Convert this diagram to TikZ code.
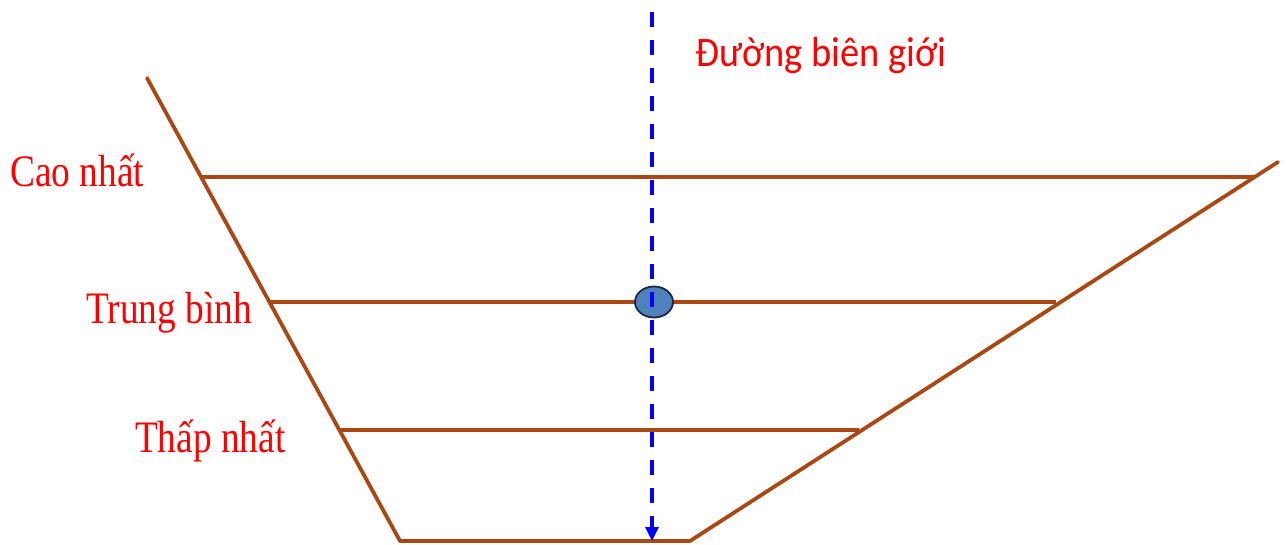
\documentclass[tikz,border=0pt]{standalone}
\usepackage{fontspec}
\setmainfont{Liberation Serif}
\newfontfamily\labsans{Carlito}
\usetikzlibrary{arrows.meta,shapes.geometric}
\definecolor{bankbrown}{RGB}{170,72,20}
\definecolor{dotblue}{RGB}{79,129,189}
\definecolor{dotedge}{RGB}{30,40,60}
\begin{document}
\begin{tikzpicture}[x=1pt,y=-1pt,
  bank/.style={draw=bankbrown,line width=3.8pt,line cap=round,line join=round},
  level/.style={draw=bankbrown,line width=3.8pt},
  lvllabel/.style={anchor=base west,inner sep=0pt,text=red,font=\fontsize{45}{45}\selectfont,xscale=0.83},
  border/.style={draw=blue,line width=3.4pt,dash pattern=on 15pt off 13pt,-{Triangle[length=14pt,width=13pt]}}]
\useasboundingbox (0,0) rectangle (1286,544);
% bank coordinates
\coordinate (lt) at (147,78);
\coordinate (lb) at (400,541);
\coordinate (rb) at (690,541);
\coordinate (rt) at (1278,162);
% level end points
\coordinate (h1l) at (202,177);
\coordinate (h1r) at (1254,177);
\coordinate (h2l) at (270,302);
\coordinate (h2r) at (1056,302);
\coordinate (h3l) at (340,430);
\coordinate (h3r) at (859,430);
% banks
\draw[bank] (lt) -- (lb) -- (rb) -- (rt);
% levels
\draw[level] (h1l) -- (h1r);
\draw[level] (h2l) -- (h2r);
\draw[level] (h3l) -- (h3r);
% gauge dot
\node[draw=dotedge,fill=dotblue,line width=1.8pt,ellipse,minimum width=38pt,minimum height=31pt,inner sep=0pt] (dot) at (654,302) {};
% border line
\coordinate (btop) at (652,12);
\coordinate (bbot) at (652,541);
\draw[border] (btop) -- (bbot);
% labels
\node[lvllabel] (cao) at (10,186) {Cao nhất};
\node[lvllabel] (tb) at (86,323) {Trung bình};
\node[lvllabel] (thap) at (135,452) {Thấp nhất};
\node[anchor=base west,inner sep=0pt,text=red,font=\labsans\fontsize{42}{42}\selectfont,xscale=0.915] (bien) at (695,66) {Đường biên giới};
\end{tikzpicture}
\end{document}
